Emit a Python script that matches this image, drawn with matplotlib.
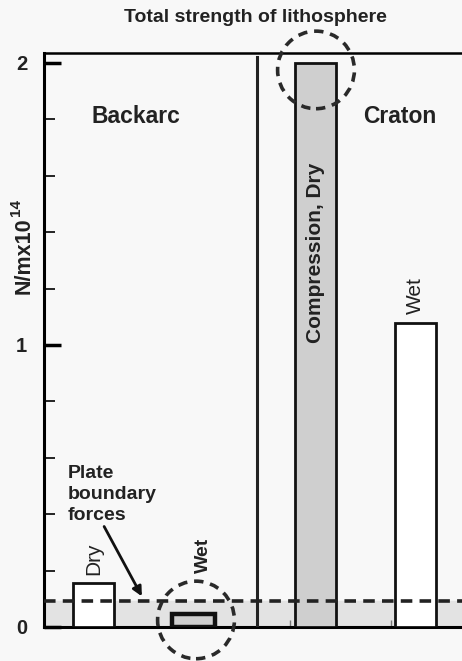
import matplotlib.pyplot as plt
from matplotlib.patches import Ellipse

plt.rcParams['font.family'] = ['Liberation Sans', 'DejaVu Sans']

# dane (N/m x 10^14)
etykiety = ['Dry', 'Wet', 'Compression, Dry', 'Wet']
wartosci = [0.156, 0.046, 2.0, 1.078]
pozycje = [1.24, 3.74, 6.78, 9.29]
wypelnienie = ['white', '#cfcfcf', '#cfcfcf', 'white']
sila_plyt = 0.092
y_ticks_major = [0, 1, 2]

tlo = '#f8f8f8'
txt = '#222222'

fig = plt.figure(figsize=(4.62, 6.61), dpi=100, facecolor=tlo)
ax = fig.add_axes([44/462, 34/661, 418/462, 574/661], facecolor=tlo)
ax.set_xlim(0, 10.45)
ax.set_ylim(0, 2.035)

# pas sil na granicy plyt
ax.axhspan(0, sila_plyt, color='#e3e3e3', zorder=1)
ax.axhline(sila_plyt, color='#222222', lw=2.6, ls=(0, (3.2, 2)), zorder=4)

szer = [1.03, 1.08, 1.03, 1.03]
grub = [2, 3.2, 2, 2]
ax.bar(pozycje, wartosci, width=szer, color=wypelnienie, edgecolor='#111111',
       linewidth=grub, zorder=3)

# linia podzialu
ax.plot([5.33, 5.33], [0, 2.02], color='#222222', lw=2.2, zorder=3)

# okregi
for (cx, cy) in [(6.8, 1.975), (3.8, 0.025)]:
    ax.add_patch(Ellipse((cx, cy), 1.92, 0.275, fill=False, ec='#2a2a2a', lw=2.6,
                         ls=(0, (2.6, 1.9)), clip_on=False, zorder=5))

# osie
ax.spines['right'].set_visible(False)
ax.spines['left'].set_linewidth(2.2)
ax.spines['bottom'].set_linewidth(2.2)
ax.spines['top'].set_linewidth(1.8)
ax.set_yticks(y_ticks_major)
ax.set_yticklabels([str(v) for v in y_ticks_major])
ax.set_yticks([0.2, 0.4, 0.6, 0.8, 1.2, 1.4, 1.6, 1.8], minor=True)
ax.tick_params(axis='y', which='major', direction='in', length=12, width=2.5,
               pad=12, labelsize=14.5, labelcolor=txt)
ax.tick_params(axis='y', which='minor', direction='in', length=8, width=1.2)
for l in ax.get_yticklabels():
    l.set_fontweight('bold')
ax.set_xticks([6.15, 8.675, 9.275])
ax.tick_params(axis='x', direction='in', length=5, width=1, labelbottom=False,
               color='#777777')

# teksty
fig.text(255/462, 1 - 18/661, 'Total strength of lithosphere', ha='center',
         va='center', fontsize=14, fontweight='bold', color=txt)
fig.text(24/462, 1 - 256/661, 'N/mx10', rotation=90, ha='center',
         va='center', fontsize=15.5, fontweight='bold', color=txt)
fig.text(16/462, 1 - 208/661, '14', rotation=90, ha='center',
         va='center', fontsize=11, fontweight='bold', color=txt)
ax.text(2.3, 1.81, 'Backarc', ha='center', va='center', fontsize=16.5,
        fontweight='bold', color=txt)
ax.text(8.9, 1.81, 'Craton', ha='center', va='center', fontsize=16.5,
        fontweight='bold', color=txt)
ax.text(0.6, 0.47, 'Plate\nboundary\nforces', ha='left', va='center',
        fontsize=14, fontweight='bold', color=txt, linespacing=1.3)
ax.annotate('', xy=(2.48, 0.1), xytext=(1.47, 0.365),
            arrowprops=dict(arrowstyle='-|>', color='#111111', lw=2,
                            mutation_scale=14), zorder=6)

ax.text(pozycje[0], wartosci[0] + 0.03, etykiety[0], rotation=90, ha='center',
        va='bottom', fontsize=15, color=txt)
ax.text(pozycje[1] + 0.24, 0.19, etykiety[1], rotation=90, ha='center',
        va='bottom', fontsize=14, fontweight='bold', color=txt)
ax.text(pozycje[2], 1.326, etykiety[2], rotation=90, ha='center',
        va='center', fontsize=15, fontweight='bold', color=txt, zorder=6)
ax.text(pozycje[3], wartosci[3] + 0.03, etykiety[3], rotation=90, ha='center',
        va='bottom', fontsize=15, color=txt)

fig.savefig('out.png', dpi=100, facecolor=tlo)
